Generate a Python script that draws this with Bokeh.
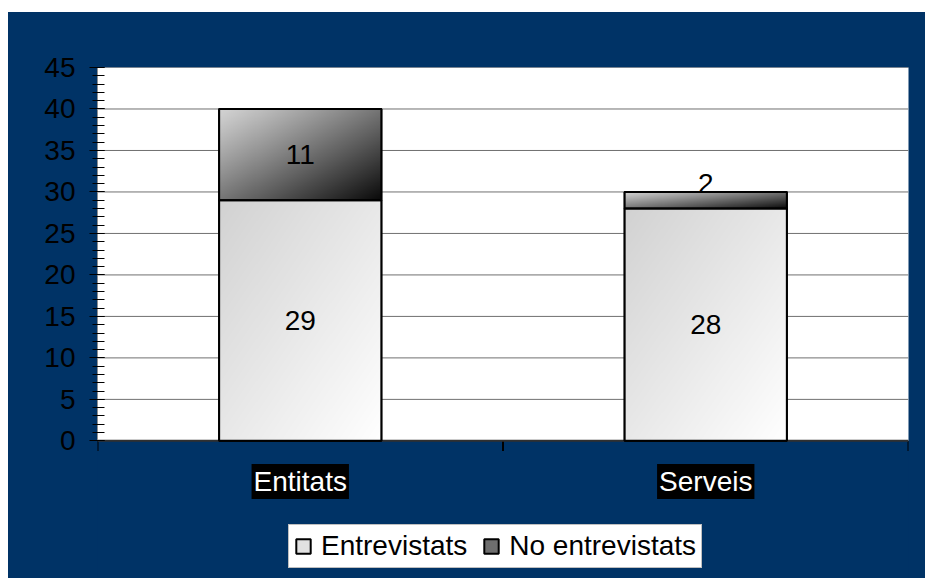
import numpy as np
from bokeh.plotting import figure
from bokeh.models import Range1d, FixedTicker, Label, Legend, LegendItem, Spacer
from bokeh.layouts import column, row
from bokeh.core.properties import value
from bokeh.embed import file_html
from bokeh.resources import INLINE

# ---- data ----
categories = ["Entitats", "Serveis"]
entrevistats = [29, 28]
no_entrevistats = [11, 2]
series_names = ["Entrevistats", "No entrevistats"]
y_ticks = list(range(0, 46, 5))
y_max = 45

FONT = "Liberation Sans"
FS = "28px"
NAVY = "#003366"

# frame covers the plot area and the space below it (labels + legend)
y_low = -(137.5 / 373.0) * y_max
n = len(categories)

p = figure(width=917, height=566, x_range=Range1d(0, n),
           y_range=Range1d(y_low, y_max), output_backend="svg",
           toolbar_location=None, x_axis_location=None,
           min_border_left=89, min_border_right=17, min_border_top=55,
           min_border_bottom=0)
p.border_fill_color = NAVY
p.background_fill_color = NAVY
p.outline_line_color = None
p.styles = {"background-color": NAVY}

# y axis
p.yaxis.bounds = (0, y_max)
p.yaxis.ticker = FixedTicker(ticks=y_ticks, minor_ticks=list(range(0, y_max + 1)))
p.yaxis.major_label_text_font = FONT
p.yaxis.major_label_text_font_size = FS
p.yaxis.major_label_text_color = "black"
p.yaxis.major_label_standoff = 14
p.yaxis.major_tick_out = 8
p.yaxis.major_tick_in = 7
p.yaxis.minor_tick_out = 5
p.yaxis.minor_tick_in = 7
p.yaxis.major_tick_line_color = "black"
p.yaxis.minor_tick_line_color = "black"
p.yaxis.axis_line_color = "#909090"

p.xgrid.grid_line_color = None
p.ygrid.grid_line_color = None

# white plot area (0..y_max), clipped by the frame
p.quad(left=[-0.1], right=[n + 0.1], bottom=[0], top=[y_max + 1],
       fill_color="white", line_color=None)

# horizontal gridlines
grid_y = [t for t in y_ticks if t > 0]
p.segment(x0=[0] * len(grid_y), y0=grid_y, x1=[n] * len(grid_y), y1=grid_y,
          line_color="#707070", line_width=1)

# category axis: baseline and boundary ticks
tick_len = 10 * y_max / 373.0
bounds_x = list(range(0, n + 1))
p.segment(x0=bounds_x, y0=[0] * len(bounds_x), x1=bounds_x,
          y1=[-tick_len] * len(bounds_x), line_color="black", line_width=2)
p.segment(x0=[0], y0=[0], x1=[n], y1=[0], line_color="#303030", line_width=2)


def gradient(c0, c1, size=160, gamma=1.0):
    xs = np.linspace(0, 1, size)
    X, R = np.meshgrid(xs, xs)
    t = ((X + (1 - R)) / 2) ** gamma
    val = (c0 + (c1 - c0) * t).astype(np.uint8)
    img = np.empty((size, size), dtype=np.uint32)
    view = img.view(dtype=np.uint8).reshape((size, size, 4))
    view[..., 0] = val
    view[..., 1] = val
    view[..., 2] = val
    view[..., 3] = 255
    return img


light_img = gradient(210, 255)
dark_img = gradient(212, 10, gamma=1.1)

bar_w = 0.4
centers = [i + 0.5 for i in range(n)]
bottoms2 = entrevistats
tops2 = [a + b for a, b in zip(entrevistats, no_entrevistats)]

# solid bars (used by the legend), covered by gradient images
r1 = p.vbar(x=centers, width=bar_w, bottom=0, top=entrevistats,
            fill_color="#e2e2e2", line_color="black", line_width=2)
r2 = p.vbar(x=centers, width=bar_w, bottom=bottoms2, top=tops2,
            fill_color="#6e6e6e", line_color="black", line_width=2)

p.image_rgba(image=[light_img] * n, x=[c - bar_w / 2 for c in centers],
             y=[0] * n, dw=[bar_w] * n, dh=entrevistats)
p.image_rgba(image=[dark_img] * n, x=[c - bar_w / 2 for c in centers],
             y=bottoms2, dw=[bar_w] * n, dh=no_entrevistats)

p.vbar(x=centers, width=bar_w, bottom=0, top=entrevistats, fill_alpha=0,
       line_color="black", line_width=2)
p.vbar(x=centers, width=bar_w, bottom=bottoms2, top=tops2, fill_alpha=0,
       line_color="black", line_width=2)

# value labels
p.text(x=centers, y=[v / 2 for v in entrevistats], text=[str(v) for v in entrevistats],
       text_font=value(FONT), text_font_size=FS, text_align="center",
       text_baseline="middle", text_color="black")
big = [(c, b, v) for c, b, v in zip(centers, bottoms2, no_entrevistats) if v >= 4]
small = [(c, b, v) for c, b, v in zip(centers, bottoms2, no_entrevistats) if v < 4]
if big:
    p.text(x=[c for c, b, v in big], y=[b + v / 2 for c, b, v in big],
           text=[str(v) for c, b, v in big], text_font=value(FONT),
           text_font_size=FS, text_align="center", text_baseline="middle",
           text_color="black")
if small:
    p.text(x=[c for c, b, v in small], y=[b + v for c, b, v in small],
           text=[str(v) for c, b, v in small], text_font=value(FONT),
           text_font_size=FS, text_align="center", text_baseline="middle",
           text_color="black", y_offset=-8)

# category labels (white on black)
label_y = -40.5 * y_max / 373.0
for c, name in zip(centers, categories):
    p.add_layout(Label(x=c, y=label_y, text=name, text_align="center",
                       text_baseline="middle", text_color="white",
                       text_font=FONT, text_font_size=FS,
                       background_fill_color="black", padding=2))

# legend
legend = Legend(items=[LegendItem(label=series_names[0], renderers=[r1]),
                       LegendItem(label=series_names[1], renderers=[r2])],
                location=(191, 10), orientation="horizontal",
                label_text_font=FONT, label_text_font_size=FS,
                label_text_color="black", glyph_width=18, glyph_height=18,
                label_standoff=9, spacing=15, padding=5, margin=0,
                background_fill_color="white", background_fill_alpha=1,
                border_line_color="#808080", border_line_width=1)
p.add_layout(legend, "center")

layout = column(Spacer(width=925, height=12),
                row(Spacer(width=8, height=566), p))
open("out.html", "w").write(file_html(layout, INLINE))
